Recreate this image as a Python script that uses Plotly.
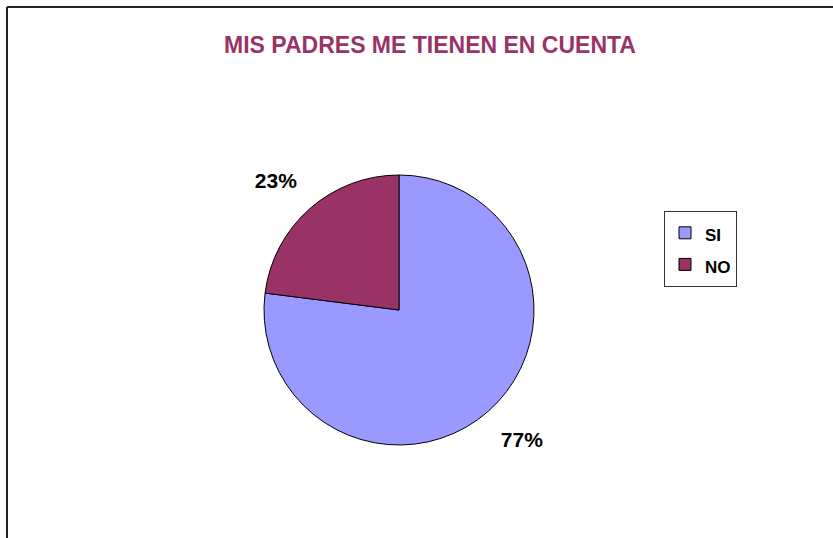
import plotly.graph_objects as go

labels = ["SI", "NO"]
values = [77, 23]
colors = ["#9999FF", "#993366"]
title_text = "MIS PADRES ME TIENEN EN CUENTA"

W, H = 833, 538
FONT = "Liberation Sans, Arial, sans-serif"

fig = go.Figure(go.Pie(
    labels=["<span style='font-size:17px'><b>" + l + "</b></span>" for l in labels],
    values=values,
    sort=False,
    direction="clockwise",
    rotation=0,
    marker=dict(colors=colors, line=dict(color="#000000", width=1)),
    texttemplate=[
        "\u00a0<br><b>%{percent:.0%}</b>",
        "<b>%{percent:.0%}</b><br>\u00a0",
    ],
    textposition="outside",
    textfont=dict(family=FONT, size=21, color="#000000"),
    domain=dict(x=[264 / W, 534 / W], y=[1 - 445 / H, 1 - 175 / H]),
    hoverinfo="label+percent",
))

fig.update_layout(
    width=W, height=H,
    margin=dict(l=0, r=0, t=0, b=0),
    paper_bgcolor="#FFFFFF",
    plot_bgcolor="#FFFFFF",
    font=dict(family=FONT),
    title=dict(
        text="<b>" + title_text + "</b>",
        x=430 / W, xanchor="center",
        y=1 - 45 / H, yanchor="middle",
        font=dict(size=23, color="#993366", family=FONT),
    ),
    legend=dict(
        x=664 / W, xanchor="left",
        y=1 - 211 / H, yanchor="top",
        bordercolor="#333333", borderwidth=1,
        font=dict(size=22, color="#000000", family=FONT),
        bgcolor="#FFFFFF",
        itemwidth=30,
    ),
    shapes=[
        dict(type="line", xref="paper", yref="paper", x0=7 / W, x1=7 / W, y0=0, y1=1 - 7 / H,
             line=dict(color="#222222", width=2)),
        dict(type="line", xref="paper", yref="paper", x0=7 / W, x1=1, y0=1 - 7 / H, y1=1 - 7 / H,
             line=dict(color="#222222", width=2)),
    ],
)

fig.write_html("out.html", config={"displayModeBar": False},
               post_script="document.body.style.margin='0';")
